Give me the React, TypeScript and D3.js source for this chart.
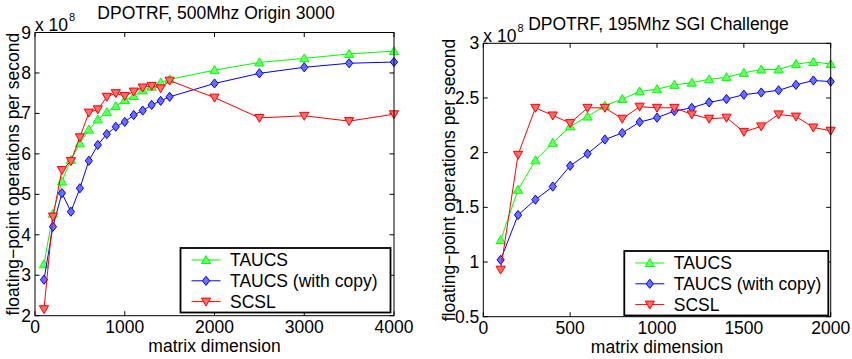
import React, { useEffect, useRef } from 'react';
import * as d3 from 'd3';

const W = 852;
const H = 359;
const FONT = '"Liberation Sans", Arial, Helvetica, sans-serif';

// left panel: 500Mhz Origin 3000
const dimsOrigin = [100, 200, 300, 400, 500, 600, 700, 800, 900, 1000, 1100, 1200, 1300, 1400, 1500, 2000, 2500, 3000, 3500, 4000];
const taucsOrigin = [3.27, 4.52, 5.32, 5.85, 6.26, 6.6, 6.85, 7.03, 7.18, 7.33, 7.43, 7.57, 7.66, 7.76, 7.84, 8.07, 8.26, 8.36, 8.47, 8.54];
const copyOrigin = [2.89, 4.2, 5.03, 4.57, 5.15, 5.83, 6.22, 6.49, 6.67, 6.79, 6.96, 7.07, 7.21, 7.31, 7.41, 7.74, 7.99, 8.14, 8.24, 8.27];
const scslOrigin = [2.16, 4.45, 5.6, 5.82, 6.41, 7.02, 7.1, 7.41, 7.5, 7.43, 7.54, 7.64, 7.68, 7.62, 7.81, 7.39, 6.89, 6.94, 6.81, 6.98];

// right panel: 195Mhz SGI Challenge
const dimsChallenge = [100, 200, 300, 400, 500, 600, 700, 800, 900, 1000, 1100, 1200, 1300, 1400, 1500, 1600, 1700, 1800, 1900, 2000];
const taucsChallenge = [1.2, 1.66, 1.93, 2.09, 2.24, 2.33, 2.43, 2.49, 2.56, 2.58, 2.62, 2.64, 2.67, 2.69, 2.73, 2.76, 2.76, 2.81, 2.83, 2.81];
const copyChallenge = [1.02, 1.43, 1.57, 1.69, 1.88, 1.99, 2.12, 2.18, 2.28, 2.32, 2.38, 2.41, 2.46, 2.49, 2.53, 2.55, 2.57, 2.62, 2.66, 2.65];
const scslChallenge = [0.93, 1.98, 2.41, 2.34, 2.27, 2.41, 2.41, 2.31, 2.42, 2.41, 2.41, 2.35, 2.31, 2.32, 2.19, 2.24, 2.35, 2.33, 2.23, 2.2];

const seriesNames = ['TAUCS', 'TAUCS (with copy)', 'SCSL'];
const lineColors = ['#00ff00', '#0000ff', '#ff0000'];
const fillColors = ['#6cff6c', '#6c6cff', '#ff6c6c'];
const markers = ['up', 'diamond', 'down'];

const xTicksOrigin = [0, 1000, 2000, 3000, 4000];
const yTicksOrigin = [2, 3, 4, 5, 6, 7, 8, 9];
const xTicksChallenge = [0, 500, 1000, 1500, 2000];
const yTicksChallenge = [0.5, 1, 1.5, 2, 2.5, 3];

function markerPath(kind, x, y) {
  if (kind === 'up') return `M${x},${y - 4.5}L${x + 4.6},${y + 3.5}L${x - 4.6},${y + 3.5}Z`;
  if (kind === 'down') return `M${x},${y + 4.5}L${x + 4.6},${y - 3.5}L${x - 4.6},${y - 3.5}Z`;
  return `M${x},${y - 4.6}L${x + 3.6},${y}L${x},${y + 4.6}L${x - 3.6},${y}Z`;
}

function drawPanel(svg, p) {
  const x = d3.scaleLinear().domain(p.xDomain).range([p.left, p.right]);
  const y = d3.scaleLinear().domain(p.yDomain).range([p.bottom, p.top]);
  const g = svg.append('g');

  // ticks, inward on all four sides
  const tl = 4.5;
  p.xTicks.forEach(t => {
    g.append('line').attr('x1', x(t)).attr('x2', x(t)).attr('y1', p.bottom).attr('y2', p.bottom - tl).attr('stroke', '#000');
    g.append('line').attr('x1', x(t)).attr('x2', x(t)).attr('y1', p.top).attr('y2', p.top + tl).attr('stroke', '#000');
    g.append('text').attr('x', x(t)).attr('y', p.bottom + 17).attr('text-anchor', 'middle').text(String(t));
  });
  p.yTicks.forEach(t => {
    g.append('line').attr('x1', p.left).attr('x2', p.left + tl).attr('y1', y(t)).attr('y2', y(t)).attr('stroke', '#000');
    g.append('line').attr('x1', p.right).attr('x2', p.right - tl).attr('y1', y(t)).attr('y2', y(t)).attr('stroke', '#000');
    g.append('text').attr('x', p.left - 4).attr('y', y(t) + 6).attr('text-anchor', 'end').text(String(t));
  });

  const line = d3.line().x(d => x(d[0])).y(d => y(d[1]));
  p.series.forEach((vals, i) => {
    const pts = p.dims.map((d, j) => [d, vals[j]]);
    g.append('path').attr('d', line(pts)).attr('fill', 'none').attr('stroke', lineColors[i]).attr('stroke-width', 1);
    pts.forEach(pt => {
      g.append('path').attr('d', markerPath(markers[i], x(pt[0]), y(pt[1])))
        .attr('fill', fillColors[i]).attr('stroke', lineColors[i]).attr('stroke-width', 1);
    });
  });

  g.append('rect').attr('x', p.left).attr('y', p.top).attr('width', p.right - p.left).attr('height', p.bottom - p.top)
    .attr('fill', 'none').attr('stroke', '#000').attr('stroke-width', 1);

  // title, exponent, labels
  g.append('text').attr('x', (p.left + p.right) / 2 + 1.5).attr('y', p.top - 13.5).attr('text-anchor', 'middle').text(p.title);
  const ex = g.append('text').attr('x', p.left).attr('y', p.top - 1.5);
  ex.append('tspan').text('x 10');
  ex.append('tspan').attr('dy', -10).attr('dx', 1).attr('font-size', 11).text('8');
  g.append('text').attr('x', (p.left + p.right) / 2).attr('y', p.bottom + 36.5).attr('text-anchor', 'middle').text('matrix dimension');
  g.append('text').attr('transform', `translate(${p.ylabelX},${(p.top + p.bottom) / 2}) rotate(-90)`)
    .attr('text-anchor', 'middle').text('floating\u2212point operations per second');

  // legend
  const lg = g.append('g').attr('transform', `translate(${p.legX},${p.legY})`);
  lg.append('rect').attr('width', p.legW).attr('height', 64.5).attr('fill', '#fff').attr('stroke', '#000').attr('stroke-width', 1.8);
  seriesNames.forEach((name, i) => {
    const yy = 12 + i * 20.8;
    lg.append('line').attr('x1', 11).attr('x2', 40).attr('y1', yy).attr('y2', yy).attr('stroke', lineColors[i]);
    lg.append('path').attr('d', markerPath(markers[i], 25.5, yy)).attr('fill', fillColors[i]).attr('stroke', lineColors[i]);
    lg.append('text').attr('x', 49.5).attr('y', yy + 6.2).text(name);
  });
}

export default function App() {
  const ref = useRef(null);
  useEffect(() => {
    const svg = d3.select(ref.current);
    svg.selectAll('*').remove();
    svg.attr('font-family', FONT).attr('font-size', 17.5).attr('fill', '#000');
    drawPanel(svg, {
      left: 35, right: 394, top: 32.5, bottom: 315.7,
      xDomain: [0, 4000], yDomain: [2, 9],
      xTicks: xTicksOrigin, yTicks: yTicksOrigin,
      dims: dimsOrigin, series: [taucsOrigin, copyOrigin, scslOrigin],
      title: 'DPOTRF, 500Mhz Origin 3000', ylabelX: 19,
      legX: 180.5, legY: 248, legW: 210
    });
    drawPanel(svg, {
      left: 483.3, right: 830.7, top: 43.3, bottom: 316.7,
      xDomain: [0, 2000], yDomain: [0.5, 3],
      xTicks: xTicksChallenge, yTicks: yTicksChallenge,
      dims: dimsChallenge, series: [taucsChallenge, copyChallenge, scslChallenge],
      title: 'DPOTRF, 195Mhz SGI Challenge', ylabelX: 454.5,
      legX: 624.3, legY: 251, legW: 204
    });
  }, []);
  return (
    <svg ref={ref} width={W} height={H} style={{ position: 'absolute', left: 0, top: 0, background: '#fff' }} />
  );
}
